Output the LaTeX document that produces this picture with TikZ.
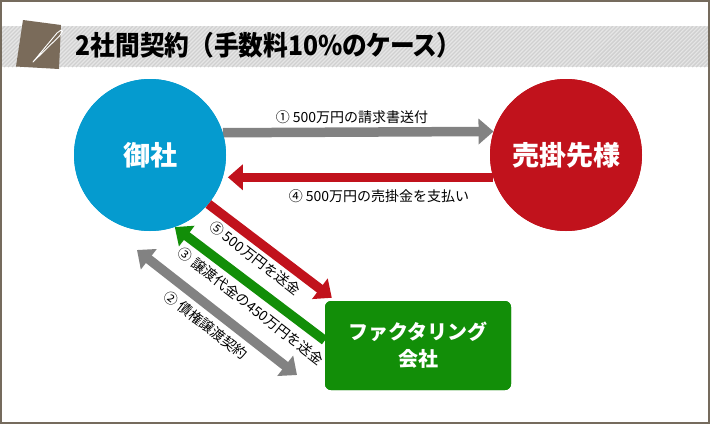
\documentclass[tikz,border=0pt]{standalone}
\usepackage{fontspec}
\usepackage{graphicx}
\setmainfont{Noto Sans CJK JP}
\usetikzlibrary{arrows.meta}
\definecolor{frame}{HTML}{756B5D}
\definecolor{iconc}{HTML}{7A6B5A}
\definecolor{bandbg}{HTML}{E6E6E6}
\definecolor{bandln}{HTML}{D0D0D0}
\definecolor{cblue}{HTML}{059BCF}
\definecolor{cred}{HTML}{C1121C}
\definecolor{cgreen}{HTML}{128E08}
\definecolor{cgray}{HTML}{828282}
\tikzset{
  fat/.style={line width=9.5pt, -{Triangle[length=15pt,width=25pt]}},
  fatboth/.style={line width=9.5pt, {Triangle[length=15pt,width=25pt]}-{Triangle[length=15pt,width=25pt]}},
  bigcirc/.style={circle, minimum size=152pt, inner sep=0pt, text=white, font=\fontsize{27}{27}\selectfont\bfseries},
  lbl/.style={inner sep=0pt, font=\fontsize{14}{14}\selectfont},
  rlbl/.style={lbl, rotate=-38},
}
\begin{document}
\begin{tikzpicture}[x=1pt,y=-1pt]
\useasboundingbox (0,0) rectangle (710,424);
\fill[white] (0,0) rectangle (710,424);
% title band
\begin{scope}
\clip (0,26) rectangle (710,67);
\fill[bandbg] (0,26) rectangle (710,67);
\foreach \x in {-48,-44,...,712} \draw[bandln, line width=1.4pt] (\x,67) -- (\x+41,26);
\end{scope}
% icon
\fill[iconc] (23,20) -- (61,25) -- (59,69) -- (16,66.5) -- cycle;
\draw[white, line width=0.9pt, line join=round] (33,62) -- (57,33) -- (61,30) -- (62.5,31.5) -- (59.5,36) -- cycle;
\node[anchor=west, inner sep=0pt, font=\fontsize{27}{27}\selectfont\bfseries] (title) at (75.5,45.5)
  {\scalebox{0.915}[1]{2社間契約（手数料10\%{\addfontfeature{RawFeature=+palt}のケース}）}};
% nodes (positions)
\coordinate (oc) at (150,155);
\coordinate (uc) at (566,155);
\node[bigcirc, fill=cblue] (osha) at (oc) {};
\node[bigcirc, fill=cred] (uri) at (uc) {};
\node[fill=cgreen, rounded corners=6pt, minimum width=186pt, minimum height=89pt, inner sep=0pt] (fact) at (418,345.5) {};
% arrows
\draw[fat, cgray] (osha.17.6) -- (uri.162.4);
\draw[fat, cred, shorten >=5pt] (uri.197) -- (osha.-17);
\draw[fat, cred] (osha.-40) -- ([xshift=7pt,yshift=3pt]fact.north west);
\draw[fat, cgreen] ([yshift=5pt]fact.west) -- (osha.-71);
\coordinate (g1) at (137,250);
\coordinate (g2) at (297,375);
\draw[fatboth, cgray] (g1) -- (g2);
% redraw shapes on top
\node[bigcirc, fill=cblue] at (oc) {御社};
\node[bigcirc, fill=cred] at (uc) {売掛先様};
\node[fill=cgreen, rounded corners=6pt, minimum width=186pt, minimum height=89pt, inner sep=0pt, text=white, align=center, font=\fontsize{20}{27}\selectfont\bfseries] at (418,345.5) {ファクタリング\\会社};
% labels
\node[lbl] (l1) at (352,117) {① 500万円の請求書送付};
\node[lbl] (l4) at (379,196) {④ 500万円の売掛金を支払い};
\node[rlbl] (l5) at (255,258) {⑤ 500万円を送金};
\node[rlbl] (l3) at (251,306) {③ 譲渡代金の450万円を送金};
\node[rlbl] (l2) at (206,325) {② 債権譲渡契約};
% frame
\draw[frame, line width=2pt] (1,1) rectangle (709,423);
\end{tikzpicture}
\end{document}
